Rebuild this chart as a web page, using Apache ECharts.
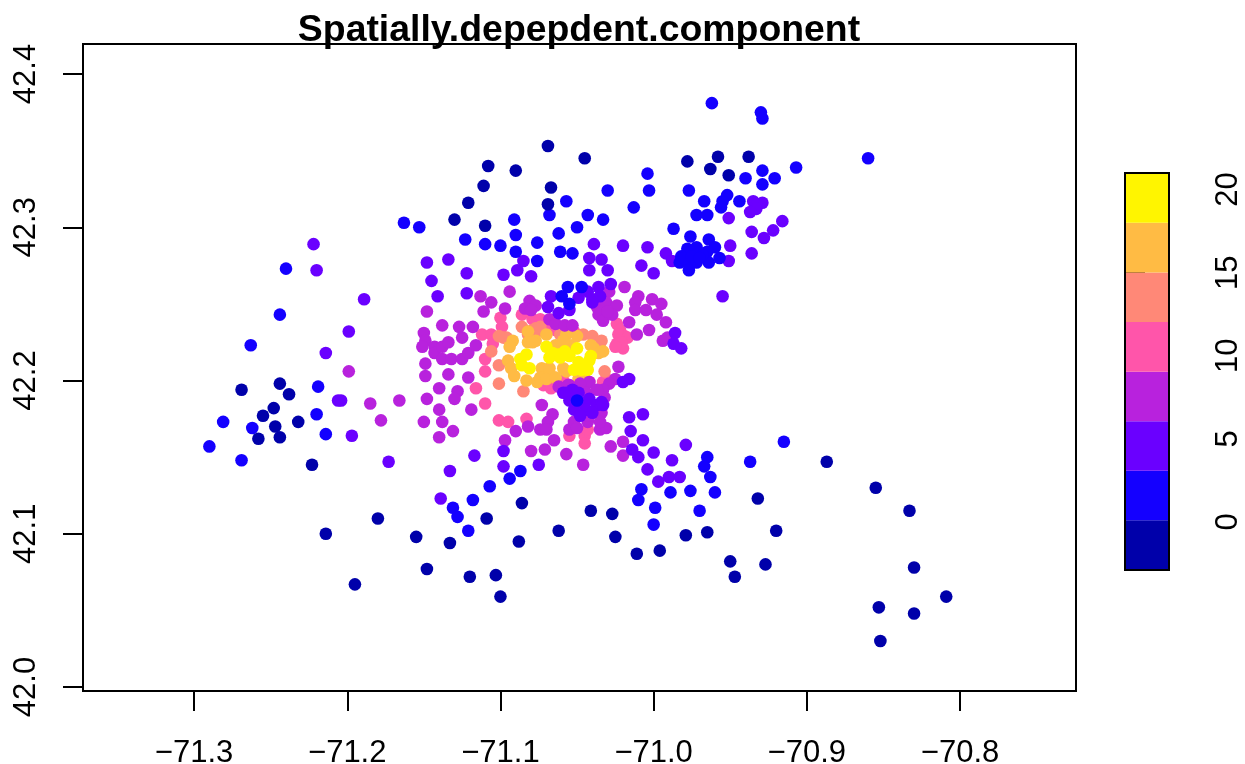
<!DOCTYPE html>
<html><head><meta charset="utf-8">
<script src="https://cdn.jsdelivr.net/npm/echarts@6/dist/echarts.min.js"></script>
<style>html,body{margin:0;padding:0;background:#fff}#c{width:1245px;height:764px}</style>
</head><body><div id="c"></div>
<script>
const titleText = 'Spatially.depepdent.component';
const lonTicks = [-71.3,-71.2,-71.1,-71.0,-70.9,-70.8];
const latTicks = [42.0,42.1,42.2,42.3,42.4];
const barTicks = [0,5,10,15,20];
const zBreaks = [-2.9,0.09,3.07,6.06,9.04,12.03,15.01,18.0,21];
const zColors = ['#0000AA','#1400FF','#6A00FF','#B822DD','#FF55AA','#FF8877','#FFBB44','#FFF500'];

const level0 = [[-71.244,42.198],[-71.269,42.194],[-71.238,42.191],[-71.248,42.182],[-71.255,42.177],[-71.247,42.170],[-71.232,42.173],[-71.258,42.162],[-71.244,42.163],[-71.223,42.145],[-71.069,42.353],[-71.045,42.345],[-71.108,42.340],[-71.090,42.337],[-71.111,42.327],[-71.067,42.326],[-71.121,42.316],[-71.069,42.315],[-71.130,42.305],[-71.110,42.301],[-70.978,42.343],[-70.958,42.346],[-70.938,42.346],[-70.963,42.338],[-70.951,42.334],[-71.180,42.110],[-71.214,42.100],[-71.155,42.098],[-71.133,42.094],[-71.086,42.120],[-71.109,42.110],[-71.088,42.095],[-71.062,42.102],[-71.041,42.115],[-71.027,42.113],[-71.025,42.098],[-71.148,42.077],[-71.120,42.072],[-71.103,42.073],[-71.195,42.067],[-71.100,42.059],[-70.932,42.123],[-71.011,42.087],[-70.996,42.089],[-70.979,42.099],[-70.965,42.101],[-70.950,42.082],[-70.927,42.080],[-70.947,42.072],[-70.920,42.102],[-70.887,42.147],[-70.855,42.130],[-70.833,42.115],[-70.830,42.078],[-70.809,42.059],[-70.853,42.052],[-70.830,42.048],[-70.852,42.030]];

const level1 = [[-71.240,42.273],[-71.244,42.243],[-71.263,42.223],[-71.219,42.196],[-71.220,42.178],[-71.281,42.173],[-71.262,42.169],[-71.214,42.165],[-71.290,42.157],[-71.269,42.148],[-71.163,42.303],[-71.153,42.300],[-71.091,42.305],[-71.090,42.295],[-71.123,42.292],[-71.110,42.289],[-71.100,42.288],[-71.090,42.284],[-71.076,42.290],[-71.076,42.278],[-71.068,42.308],[-71.057,42.317],[-71.062,42.296],[-71.050,42.300],[-71.043,42.308],[-71.033,42.305],[-71.030,42.324],[-71.013,42.313],[-71.004,42.335],[-71.003,42.324],[-71.061,42.284],[-71.053,42.283],[-71.056,42.261],[-71.047,42.261],[-71.060,42.255],[-70.962,42.381],[-70.930,42.375],[-70.929,42.371],[-70.860,42.345],[-70.907,42.339],[-70.929,42.337],[-70.921,42.332],[-70.940,42.332],[-70.929,42.328],[-70.977,42.324],[-70.967,42.317],[-70.952,42.321],[-70.955,42.317],[-70.956,42.313],[-70.944,42.317],[-70.972,42.308],[-70.965,42.308],[-70.987,42.299],[-70.976,42.294],[-70.964,42.292],[-70.978,42.286],[-70.972,42.287],[-70.960,42.287],[-70.965,42.284],[-70.982,42.281],[-70.983,42.277],[-70.978,42.277],[-70.972,42.277],[-70.977,42.272],[-70.964,42.277],[-70.957,42.280],[-70.968,42.282],[-70.980,42.280],[-70.975,42.281],[-70.970,42.280],[-71.055,42.250],[-71.050,42.187],[-71.087,42.141],[-71.094,42.136],[-71.107,42.131],[-71.118,42.122],[-71.131,42.117],[-71.128,42.111],[-71.121,42.102],[-70.915,42.160],[-70.937,42.147],[-70.965,42.150],[-70.967,42.144],[-70.963,42.137],[-70.960,42.127],[-70.976,42.128],[-70.989,42.127],[-71.008,42.129],[-71.010,42.122],[-70.999,42.117],[-70.970,42.115],[-71.000,42.106]];

const level2 = [[-71.222,42.289],[-71.220,42.272],[-71.189,42.253],[-71.199,42.232],[-71.214,42.218],[-71.206,42.187],[-71.204,42.187],[-71.197,42.164],[-71.173,42.147],[-71.148,42.277],[-71.134,42.279],[-71.145,42.265],[-71.122,42.270],[-71.141,42.255],[-71.122,42.257],[-71.098,42.269],[-71.089,42.272],[-71.085,42.278],[-71.080,42.268],[-71.039,42.289],[-71.042,42.280],[-71.034,42.279],[-71.042,42.272],[-71.030,42.272],[-71.020,42.288],[-71.004,42.287],[-71.008,42.275],[-71.000,42.270],[-71.067,42.255],[-71.043,42.258],[-71.036,42.261],[-71.028,42.263],[-71.035,42.255],[-71.049,42.254],[-71.040,42.253],[-70.951,42.306],[-70.935,42.317],[-70.929,42.316],[-70.933,42.314],[-70.933,42.312],[-70.937,42.310],[-70.916,42.304],[-70.922,42.298],[-70.936,42.297],[-70.928,42.293],[-70.950,42.288],[-70.951,42.278],[-70.936,42.283],[-70.992,42.283],[-70.988,42.278],[-70.955,42.255],[-71.069,42.248],[-71.062,42.244],[-71.055,42.246],[-71.040,42.251],[-71.016,42.201],[-71.020,42.199],[-70.986,42.231],[-70.987,42.224],[-70.982,42.221],[-71.059,42.192],[-71.055,42.187],[-71.052,42.181],[-71.046,42.185],[-71.042,42.188],[-71.037,42.184],[-71.034,42.186],[-71.049,42.192],[-71.044,42.181],[-71.053,42.194],[-71.040,42.179],[-71.048,42.177],[-71.057,42.192],[-71.033,42.184],[-71.117,42.151],[-71.098,42.154],[-71.098,42.144],[-71.133,42.141],[-71.075,42.145],[-71.016,42.176],[-71.007,42.178],[-71.015,42.167],[-71.007,42.161],[-71.014,42.155],[-71.010,42.150],[-71.000,42.153],[-71.004,42.142],[-70.979,42.158],[-70.988,42.148],[-70.997,42.134],[-70.990,42.137],[-70.983,42.137],[-71.139,42.123]];

const level3 = [[-71.199,42.206],[-71.185,42.185],[-71.166,42.187],[-71.178,42.174],[-71.148,42.245],[-71.150,42.231],[-71.149,42.226],[-71.151,42.222],[-71.149,42.211],[-71.149,42.203],[-71.148,42.188],[-71.150,42.173],[-71.113,42.255],[-71.106,42.251],[-71.094,42.258],[-71.097,42.247],[-71.111,42.245],[-71.138,42.236],[-71.127,42.235],[-71.118,42.235],[-71.125,42.228],[-71.143,42.222],[-71.143,42.218],[-71.138,42.222],[-71.134,42.225],[-71.138,42.214],[-71.132,42.214],[-71.125,42.214],[-71.121,42.218],[-71.116,42.223],[-71.134,42.204],[-71.121,42.202],[-71.140,42.195],[-71.128,42.193],[-71.081,42.252],[-71.077,42.249],[-71.084,42.247],[-71.080,42.246],[-71.068,42.240],[-71.064,42.237],[-71.058,42.236],[-71.053,42.236],[-71.019,42.261],[-71.029,42.258],[-71.010,42.255],[-71.012,42.251],[-71.012,42.246],[-71.001,42.253],[-70.995,42.250],[-71.005,42.246],[-70.998,42.243],[-70.992,42.238],[-71.003,42.233],[-71.011,42.230],[-71.016,42.238],[-70.994,42.226],[-70.991,42.228],[-71.037,42.248],[-71.031,42.251],[-71.024,42.249],[-71.036,42.243],[-71.033,42.239],[-71.027,42.243],[-71.030,42.245],[-71.023,42.209],[-71.025,42.201],[-71.029,42.198],[-71.042,42.199],[-71.048,42.198],[-71.055,42.197],[-71.062,42.196],[-71.130,42.188],[-71.140,42.181],[-71.119,42.181],[-71.138,42.173],[-71.131,42.167],[-71.140,42.163],[-71.073,42.184],[-71.066,42.178],[-71.069,42.173],[-71.082,42.170],[-71.090,42.167],[-71.074,42.168],[-71.070,42.168],[-71.097,42.161],[-71.065,42.161],[-71.080,42.154],[-71.071,42.155],[-71.057,42.152],[-71.046,42.145],[-71.028,42.157],[-71.020,42.160],[-71.020,42.151],[-71.055,42.168],[-71.052,42.173],[-71.050,42.169],[-71.043,42.173],[-71.044,42.177],[-71.034,42.179],[-71.035,42.168],[-71.031,42.169],[-71.035,42.173],[-71.042,42.177],[-71.033,42.194],[-71.032,42.189],[-71.044,42.192],[-71.037,42.194],[-71.056,42.197]];

const level4 = [[-71.100,42.241],[-71.099,42.235],[-71.112,42.230],[-71.106,42.230],[-71.105,42.224],[-71.110,42.214],[-71.110,42.206],[-71.116,42.195],[-71.110,42.185],[-71.101,42.174],[-71.095,42.173],[-71.083,42.175],[-71.072,42.197],[-71.067,42.195],[-71.055,42.164],[-71.045,42.164],[-71.045,42.159],[-71.043,42.168],[-71.086,42.243],[-71.079,42.240],[-71.074,42.240],[-71.068,42.234],[-71.064,42.233],[-71.057,42.232],[-71.052,42.232],[-71.059,42.200],[-71.048,42.199],[-71.042,42.199],[-71.033,42.199],[-71.029,42.200],[-71.024,42.237],[-71.022,42.233],[-71.019,42.229],[-71.023,42.230],[-71.024,42.224],[-71.020,42.221],[-71.017,42.228],[-71.021,42.225],[-71.025,42.222]];

const level5 = [[-71.106,42.219],[-71.101,42.210],[-71.101,42.198],[-71.085,42.193],[-71.086,42.235],[-71.098,42.228],[-71.096,42.228],[-71.101,42.229],[-71.076,42.232],[-71.079,42.233],[-71.074,42.235],[-71.077,42.234],[-71.061,42.230],[-71.046,42.230],[-71.040,42.229],[-71.034,42.226],[-71.032,42.206],[-71.082,42.230],[-71.065,42.202],[-71.048,42.202]];

const level6 = [[-71.092,42.226],[-71.094,42.222],[-71.095,42.213],[-71.093,42.208],[-71.091,42.203],[-71.083,42.200],[-71.076,42.199],[-71.073,42.208],[-71.068,42.208],[-71.059,42.208],[-71.057,42.206],[-71.082,42.232],[-71.082,42.225],[-71.077,42.226],[-71.070,42.230],[-71.064,42.223],[-71.057,42.230],[-71.054,42.223],[-71.050,42.229],[-71.039,42.221],[-71.033,42.219],[-71.036,42.218],[-71.041,42.223],[-71.074,42.202],[-71.070,42.201],[-71.064,42.202],[-71.049,42.201],[-71.046,42.203],[-71.079,42.225],[-71.059,42.226]];

const level7 = [[-71.083,42.217],[-71.087,42.214],[-71.086,42.210],[-71.081,42.208],[-71.070,42.222],[-71.068,42.215],[-71.062,42.217],[-71.058,42.219],[-71.050,42.221],[-71.066,42.218],[-71.055,42.216],[-71.049,42.212],[-71.042,42.213],[-71.052,42.207],[-71.044,42.209],[-71.041,42.216],[-71.047,42.207],[-71.043,42.207],[-71.061,42.215]];

const levels = [level0,level1,level2,level3,level4,level5,level6,level7];
const drawOrder = [4,5,6,7,3,2,1,0];
const FONT = '"Liberation Sans", Arial, sans-serif';

const scatterSeries = drawOrder.map(i => ({
  type:'scatter', xAxisIndex:0, yAxisIndex:0, data:levels[i], symbol:'circle', symbolSize:12.6,
  itemStyle:{color:zColors[i], opacity:1}, silent:true, animation:false, clip:false
}));

const barBins = zColors.map((c,i)=>[zBreaks[i],zBreaks[i+1],c]);

const option = {
  animation:false,
  backgroundColor:'#fff',
  title:{text:titleText,left:574,top:7,textAlign:'center',textStyle:{fontFamily:FONT,fontWeight:'bold',fontSize:37.4,color:'#000'}},
  grid:[
    {left:83,top:44,width:993,height:647,show:true,borderColor:'#000',borderWidth:2,backgroundColor:'transparent',containLabel:false,outerBoundsMode:'none',z:10},
    {left:1125,top:173,width:44,height:397,show:true,borderColor:'#000',borderWidth:2,backgroundColor:'transparent',outerBoundsMode:'none',z:10}
  ],
  xAxis:[
    {type:'value',gridIndex:0,min:-71.3725,max:-70.7243,splitLine:{show:false},axisLine:{show:false},
     axisTick:{show:true,length:20,customValues:lonTicks,lineStyle:{color:'#000',width:2}},
     axisLabel:{show:true,customValues:lonTicks,margin:47,fontFamily:FONT,fontSize:31,color:'#000',
       formatter:v=>'\u2212'+Math.abs(v).toFixed(1)}},
    {type:'value',gridIndex:1,min:0,max:1,show:false}
  ],
  yAxis:[
    {type:'value',gridIndex:0,min:41.9974,max:42.4196,splitLine:{show:false},axisLine:{show:false},
     axisTick:{show:true,length:20,customValues:latTicks,lineStyle:{color:'#000',width:2}},
     axisLabel:{show:true,customValues:latTicks,rotate:90,margin:41,fontFamily:FONT,fontSize:31,color:'#000',
       formatter:v=>v.toFixed(1)}},
    {type:'value',gridIndex:1,min:-2.9,max:21,position:'right',splitLine:{show:false},axisLine:{show:false},
     axisTick:{show:true,length:20,customValues:barTicks,lineStyle:{color:'#000',width:2}},
     axisLabel:{show:true,customValues:barTicks,rotate:90,margin:44,fontFamily:FONT,fontSize:31,color:'#000'}}
  ],
  series:[
    ...scatterSeries,
    {type:'custom',xAxisIndex:1,yAxisIndex:1,data:barBins,silent:true,animation:false,
     encode:{x:null,y:[0,1]},
     renderItem:(params,api)=>{
       const a=api.coord([0,api.value(0)]), b=api.coord([1,api.value(1)]);
       return {type:'rect',shape:{x:a[0],y:b[1],width:b[0]-a[0],height:a[1]-b[1]},
               style:{fill:barBins[params.dataIndex][2],stroke:null}};
     }}
  ]
};
echarts.init(document.getElementById('c'),null,{renderer:'canvas'}).setOption(option);
</script></body></html>
